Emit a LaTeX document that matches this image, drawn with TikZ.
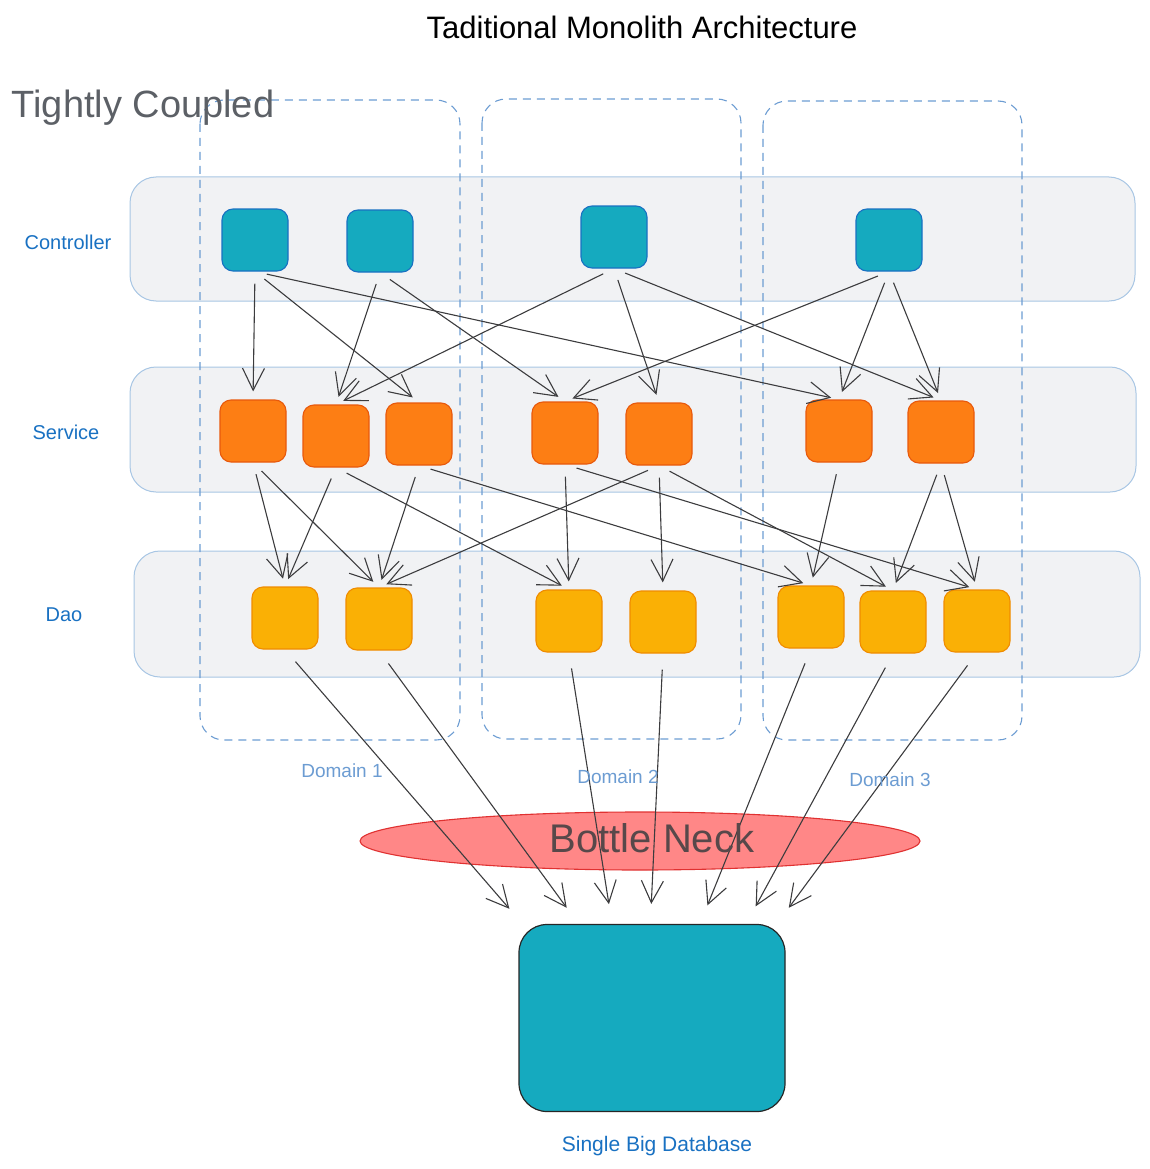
\documentclass[tikz,border=0pt]{standalone}
\usepackage{fontspec}
\setmainfont{Liberation Sans}
\usetikzlibrary{positioning,shapes.geometric,arrows.meta}
\definecolor{bandgrey}{RGB}{241, 242, 244}
\definecolor{bandblue}{RGB}{168, 198, 228}
\definecolor{domainblue}{RGB}{108, 156, 210}
\definecolor{textblue}{RGB}{25, 113, 194}
\definecolor{ctrlfill}{RGB}{21, 170, 191}
\definecolor{ctrlline}{RGB}{25, 113, 194}
\definecolor{svcfill}{RGB}{253, 126, 20}
\definecolor{svcline}{RGB}{232, 89, 12}
\definecolor{daofill}{RGB}{250, 176, 5}
\definecolor{daoline}{RGB}{240, 140, 0}
\definecolor{neckfill}{RGB}{255, 135, 135}
\definecolor{neckline}{RGB}{224, 49, 49}
\definecolor{arrowgrey}{RGB}{60, 60, 62}
\definecolor{titlegrey}{RGB}{92, 96, 102}
\definecolor{neckgrey}{RGB}{88, 72, 74}
\tikzset{
  band/.style={draw=bandblue, fill=bandgrey, line width=1pt, rounded corners=26pt},
  domainbox/.style={draw=domainblue, dash pattern=on 8pt off 6pt, line width=1.1pt, rounded corners=24pt},
  comp/.style={minimum width=66pt, minimum height=62pt, rounded corners=11pt, line width=1.1pt, inner sep=0pt},
  ctrl/.style={comp, fill=ctrlfill, draw=ctrlline},
  svc/.style={comp, fill=svcfill, draw=svcline},
  dao/.style={comp, fill=daofill, draw=daoline},
  arr/.style={draw=arrowgrey, line width=1.1pt, -{Straight Barb[length=22pt,width=22pt,line width=1.1pt]}, shorten <=12pt, shorten >=8pt},
  dbarr/.style={arr, shorten <=16pt, shorten >=20pt},
  layertext/.style={text=textblue, font=\fontsize{20}{24}\selectfont},
  domaintext/.style={text=domainblue, font=\fontsize{19}{23}\selectfont}
}
\begin{document}
\begin{tikzpicture}[x=1pt,y=-1pt]
\useasboundingbox (0,0) rectangle (1150,1169);

% Layer bands
\draw[band] (130,177) rectangle (1135,301);
\draw[band] (130,367) rectangle (1136,492);
\draw[band] (134,551) rectangle (1140,677);

% Domain boxes
\draw[domainbox] (200,100) rectangle (460,740);
\draw[domainbox] (482,99) rectangle (741,739);
\draw[domainbox] (763,101) rectangle (1022,740);

% Controllers
\node[ctrl] (c1) at (255,240) {};
\node[ctrl] (c2) at (380,241) {};
\node[ctrl] (c3) at (614,237) {};
\node[ctrl] (c4) at (889,240) {};

% Services
\node[svc] (s1) at (253,431) {};
\node[svc] (s2) at (336,436) {};
\node[svc] (s3) at (419,434) {};
\node[svc] (s4) at (565,433) {};
\node[svc] (s5) at (659,434) {};
\node[svc] (s6) at (839,431) {};
\node[svc] (s7) at (941,432) {};

% Daos
\node[dao] (d1) at (285,618) {};
\node[dao] (d2) at (379,619) {};
\node[dao] (d3) at (569,621) {};
\node[dao] (d4) at (663,622) {};
\node[dao] (d5) at (811,617) {};
\node[dao] (d6) at (893,622) {};
\node[dao] (d7) at (977,621) {};

% Bottle neck and database
\node[ellipse, fill=neckfill, draw=neckline, line width=1.1pt, minimum width=560pt, minimum height=58pt] (neck) at (640,841) {};
\node[fill=ctrlfill, draw=black!85, line width=1.2pt, rounded corners=28pt, minimum width=266pt, minimum height=187pt] (db) at (652,1018) {};

% Controller -> Service
\foreach \a/\b in {c1/s1,c1/s3,c1/s6,c2/s2,c2/s4,c3/s2,c3/s5,c3/s7,c4/s4,c4/s6,c4/s7}
  \draw[arr] (\a.south) -- (\b.north);

% Service -> Dao
\foreach \a/\b in {s1/d1,s1/d2,s2/d1,s2/d3,s3/d2,s3/d5,s4/d3,s4/d7,s5/d2,s5/d4,s5/d6,s6/d5,s7/d6,s7/d7}
  \draw[arr] (\a.south) -- (\b.north);

% Dao -> Database
\foreach \a/\ang in {d1/144,d2/128,d3/113,d4/91,d5/63,d6/45,d7/37}
  \draw[dbarr] (\a.south) -- (db.\ang);

% Labels
\node[font=\fontsize{31}{37}\selectfont] (title) at (642,27) {Taditional Monolith Architecture};
\node[text=titlegrey, font=\fontsize{38}{45}\selectfont] (coupled) at (143,108) {Tightly Coupled};
\node[layertext] (ctrllabel) at (68,242) {Controller};
\node[layertext] (svclabel) at (66,432) {Service};
\node[layertext] (daolabel) at (64,615) {Dao};
\node[domaintext] (dom1) at (342,771) {Domain 1};
\node[domaintext] (dom2) at (618,777) {Domain 2};
\node[domaintext] (dom3) at (890,780) {Domain 3};
\node[text=neckgrey, font=\fontsize{40}{48}\selectfont] (necklabel) at (652,838) {Bottle Neck};
\node[text=textblue, font=\fontsize{21}{25}\selectfont] (dblabel) at (657,1146) {Single Big Database};
\end{tikzpicture}
\end{document}
